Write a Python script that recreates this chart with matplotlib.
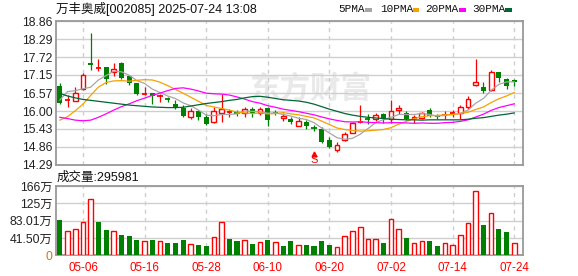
import matplotlib
matplotlib.use('Agg')
import matplotlib.pyplot as plt
from matplotlib.patches import Rectangle
import numpy as np

plt.rcParams['font.family'] = ['Liberation Sans', 'Noto Sans CJK SC', 'DejaVu Sans']

title = '万丰奥威[002085] 2025-07-24 13:08'

dates = ['04-28', '04-29', '04-30', '05-06', '05-07', '05-08', '05-09', '05-12', '05-13', '05-14',
         '05-15', '05-16', '05-19', '05-20', '05-21', '05-22', '05-23', '05-26', '05-27', '05-28',
         '05-29', '05-30', '06-03', '06-04', '06-05', '06-06', '06-09', '06-10', '06-11', '06-12',
         '06-13', '06-16', '06-17', '06-18', '06-19', '06-20', '06-23', '06-24', '06-25', '06-26',
         '06-27', '06-30', '07-01', '07-02', '07-03', '07-04', '07-07', '07-08', '07-09', '07-10',
         '07-11', '07-14', '07-15', '07-16', '07-17', '07-18', '07-21', '07-22', '07-23', '07-24']

opens = [16.80, 16.34, 16.33, 16.71, 17.52, 17.37, 17.39, 17.24, 17.54, 17.12,
         16.88, 16.54, 16.57, 16.46, 16.38, 16.22, 16.10, 15.82, 15.99, 15.81,
         15.65, 15.93, 15.94, 15.94, 15.93, 16.07, 15.93, 16.11, 15.96, 15.78,
         15.74, 15.52, 15.66, 15.47, 15.42, 15.09, 14.76, 15.08, 15.31, 15.65,
         15.75, 15.74, 15.90, 15.76, 16.03, 15.95, 15.78, 15.78, 16.03, 15.85,
         15.86, 15.91, 15.95, 16.12, 16.82, 16.76, 16.67, 17.24, 17.01, 16.99]
highs = [16.90, 16.50, 16.77, 17.22, 18.50, 17.65, 17.41, 17.52, 17.56, 17.14,
         16.90, 16.77, 16.58, 16.53, 16.46, 16.35, 16.19, 16.11, 16.03, 15.91,
         16.14, 16.54, 16.07, 16.03, 16.12, 16.12, 16.14, 16.12, 16.03, 15.95,
         15.82, 15.80, 15.70, 15.57, 15.48, 15.16, 15.01, 15.33, 15.65, 16.18,
         15.92, 15.93, 15.93, 16.35, 16.20, 15.99, 15.88, 15.97, 16.10, 15.91,
         16.01, 16.03, 16.20, 16.48, 17.67, 16.93, 17.31, 17.24, 17.05, 17.01]
lows = [16.22, 16.12, 16.31, 16.67, 17.32, 17.29, 16.86, 17.12, 17.01, 16.82,
        16.51, 16.50, 16.21, 16.28, 16.29, 16.07, 15.82, 15.74, 15.73, 15.57,
        15.63, 15.65, 15.80, 15.84, 15.80, 15.80, 15.88, 15.53, 15.88, 15.69,
        15.59, 15.51, 15.43, 15.35, 14.97, 14.82, 14.68, 15.04, 15.29, 15.61,
        15.59, 15.69, 15.63, 15.61, 15.90, 15.71, 15.61, 15.74, 15.82, 15.74,
        15.74, 15.80, 15.76, 16.05, 16.81, 16.57, 16.63, 16.93, 16.69, 16.80]
closes = [16.25, 16.36, 16.59, 17.15, 17.46, 17.40, 17.03, 17.33, 17.05, 16.90,
          16.54, 16.56, 16.47, 16.49, 16.36, 16.12, 15.85, 16.01, 15.80, 15.59,
          16.00, 16.07, 15.97, 15.92, 16.06, 15.91, 16.05, 15.73, 15.94, 15.83,
          15.66, 15.68, 15.52, 15.45, 15.01, 14.85, 14.91, 15.27, 15.61, 15.68,
          15.73, 15.86, 15.74, 16.01, 16.10, 15.76, 15.82, 15.93, 15.84, 15.83,
          15.89, 15.94, 16.12, 16.39, 16.93, 16.63, 17.24, 17.05, 16.80, 16.93]
close_before = 16.80

# volume in 万 (10k shares)
volumes = [84.5, 57.5, 62.3, 79.8, 134.1, 79.8, 60.6, 57.5, 48.6, 46.2,
           36.6, 33.5, 36.6, 33.5, 28.7, 28.7, 36.6, 26.3, 24.7, 22.3,
           43.1, 79.0, 39.0, 34.2, 36.6, 27.1, 31.1, 36.6, 31.1, 22.3,
           33.5, 24.0, 24.0, 22.3, 33.5, 24.0, 20.7, 47.0, 57.5, 67.1,
           38.3, 38.3, 28.7, 86.2, 62.3, 41.4, 28.7, 33.5, 33.5, 22.3,
           30.2, 24.0, 47.9, 76.6, 153.3, 71.9, 100.6, 63.0, 55.8, 29.6]

ma5 = [16.35, 16.62, 16.65, 16.71, 16.76, 16.99, 17.13, 17.27, 17.25, 17.14,
       16.97, 16.88, 16.70, 16.59, 16.48, 16.40, 16.26, 16.17, 16.03, 15.87,
       15.85, 15.89, 15.89, 15.91, 16.00, 15.99, 15.98, 15.93, 15.94, 15.89,
       15.84, 15.77, 15.73, 15.63, 15.46, 15.30, 15.15, 15.10, 15.13, 15.26,
       15.44, 15.63, 15.72, 15.80, 15.89, 15.89, 15.89, 15.92, 15.89, 15.84,
       15.86, 15.89, 15.92, 16.03, 16.25, 16.40, 16.66, 16.85, 16.93, 16.93]
ma10 = [15.71, 15.82, 16.01, 16.22, 16.50, 16.76, 16.91, 16.96, 16.97, 16.95,
        16.98, 17.00, 16.99, 16.92, 16.81, 16.69, 16.57, 16.44, 16.31, 16.18,
        16.13, 16.08, 16.03, 15.97, 15.94, 15.92, 15.94, 15.91, 15.92, 15.95,
        15.91, 15.88, 15.83, 15.78, 15.68, 15.57, 15.46, 15.41, 15.38, 15.36,
        15.37, 15.39, 15.41, 15.47, 15.58, 15.67, 15.76, 15.82, 15.85, 15.86,
        15.88, 15.89, 15.92, 15.96, 16.05, 16.13, 16.27, 16.39, 16.48, 16.59]
ma20 = [15.80, 15.76, 15.71, 15.69, 15.71, 15.80, 15.91, 16.03, 16.14, 16.23,
        16.33, 16.41, 16.50, 16.57, 16.65, 16.72, 16.74, 16.70, 16.64, 16.57,
        16.55, 16.54, 16.51, 16.45, 16.38, 16.30, 16.25, 16.17, 16.12, 16.06,
        16.02, 15.98, 15.93, 15.88, 15.81, 15.75, 15.70, 15.66, 15.65, 15.66,
        15.64, 15.63, 15.62, 15.63, 15.63, 15.62, 15.61, 15.62, 15.61, 15.61,
        15.63, 15.64, 15.67, 15.72, 15.81, 15.90, 16.02, 16.11, 16.17, 16.23]
ma30 = [16.56, 16.48, 16.42, 16.37, 16.34, 16.31, 16.28, 16.25, 16.22, 16.19,
        16.17, 16.15, 16.13, 16.12, 16.11, 16.11, 16.12, 16.16, 16.20, 16.24,
        16.27, 16.30, 16.34, 16.37, 16.42, 16.46, 16.47, 16.44, 16.40, 16.36,
        16.34, 16.32, 16.28, 16.22, 16.14, 16.06, 15.99, 15.92, 15.87, 15.83,
        15.80, 15.78, 15.76, 15.74, 15.73, 15.72, 15.72, 15.71, 15.72, 15.72,
        15.72, 15.72, 15.72, 15.74, 15.77, 15.79, 15.83, 15.87, 15.90, 15.94]

ma_names = ['5PMA', '10PMA', '20PMA', '30PMA']
ma_colors = ['#a6a6a6', '#f5a200', '#ff00ff', '#006633']

price_ticks = [14.29, 14.86, 15.43, 16.00, 16.57, 17.15, 17.72, 18.29, 18.86]
vol_ticks = [0, 41.50, 83.01, 124.51, 166.02]
vol_tick_labels = ['0', '41.50万', '83.01万', '125万', '166万']
date_ticks = ['05-06', '05-16', '05-28', '06-10', '06-20', '07-02', '07-14', '07-24']
volume_text = '成交量:295981'
split_day = '06-18'
watermark = '东方财富'

RED = '#ff0000'
GREEN = '#008000'
GRID = '#cfcfcf'
FRAME = '#999999'

W, H = 578, 276


def fx(px):
    return px / W


def fy(py):
    return 1 - py / H


def style_axes(ax):
    for s in ax.spines.values():
        s.set_color(FRAME)
        s.set_linewidth(1.3)
    ax.tick_params(length=0, colors='#222222', labelsize=8.8, pad=2.5)
    ax.set_xlim(-0.5, len(dates) + 0.1)
    for d in date_ticks:
        ax.axvline(dates.index(d), color=GRID, lw=1, ls=(0, (3, 3)), zorder=1)


fig = plt.figure(figsize=(W / 100, H / 100), dpi=100)
ax = fig.add_axes([fx(56), fy(164.7), fx(522.7 - 56), 143.4 / H])
vax = fig.add_axes([fx(56), fy(255.3), fx(522.7 - 56), 69.3 / H])

x = np.arange(len(dates))

# price panel
style_axes(ax)
ax.set_ylim(price_ticks[0], price_ticks[-1])
ax.set_yticks(price_ticks)
ax.set_yticklabels(['%.2f' % t for t in price_ticks])
ax.set_xticks([])
for t in price_ticks:
    ax.axhline(t, color=GRID, lw=1, zorder=1)

ax.text(0.544, 0.531, watermark, transform=ax.transAxes, ha='center', va='center',
        fontsize=22, color='#e9e9e9', fontweight='bold', family=['Noto Sans CJK SC'], zorder=0.5)

for i in range(len(x)):
    o, c = opens[i], closes[i]
    col = RED if c >= o else GREEN
    ax.vlines(x[i], lows[i], highs[i], color=col, lw=0.9, zorder=3)
    h = abs(c - o)
    if h < 0.035:
        ax.hlines((o + c) / 2, x[i] - 0.33, x[i] + 0.33, color=col, lw=1.3, zorder=4)
    elif col == RED:
        ax.bar(x[i], h, bottom=o, width=0.62, facecolor='white', edgecolor=RED, lw=1, zorder=4)
    else:
        ax.bar(x[i], h, bottom=c, width=0.66, color=GREEN, lw=0, zorder=4)

for vals, col in zip([ma5, ma10, ma20, ma30], ma_colors):
    ax.plot(x, vals, color=col, lw=0.9, zorder=5)

si = dates.index(split_day)
ax.plot([si], [0.072], marker='^', ms=3.5, color=RED, transform=ax.get_xaxis_transform(), zorder=6)
ax.text(si, 0.03, 'S', color=RED, fontsize=8, ha='center', va='center',
        transform=ax.get_xaxis_transform(), zorder=6)

# volume panel
style_axes(vax)
vax.set_ylim(0, vol_ticks[-1])
vax.set_yticks(vol_ticks)
vax.set_yticklabels(vol_tick_labels, family=['Liberation Sans', 'Noto Sans CJK SC'])
vax.get_yticklabels()[0].set_color('#cc7a00')
for t in vol_ticks:
    vax.axhline(t, color=GRID, lw=1, zorder=1)
prev = [close_before] + closes[:-1]
for i in range(len(x)):
    if closes[i] >= prev[i]:
        vax.bar(x[i], volumes[i], width=0.6, facecolor='white', edgecolor=RED, lw=1, zorder=3)
    else:
        vax.bar(x[i], volumes[i], width=0.66, color=GREEN, lw=0, zorder=3)
vax.set_xticks([dates.index(d) for d in date_ticks])
vax.set_xticklabels(date_ticks, color=RED, fontsize=8.4)
vax.tick_params(axis='x', pad=5)

# texts above panels
fig.text(fx(56), fy(9), title, fontsize=9, va='center', ha='left', color='#111111')
fig.text(fx(57), fy(177.5), volume_text, fontsize=9, va='center', ha='left', color='#111111')

legend_x = [338, 380, 425, 472]
dash_x = [365, 412.5, 459, 505]
for name, col, lx, dx in zip(ma_names, ma_colors, legend_x, dash_x):
    fig.text(fx(lx), fy(9.5), name, fontsize=8, va='center', ha='left', color='#111111',
             family=['Liberation Mono'])
    fig.add_artist(Rectangle((fx(dx), fy(11.5)), fx(6.5), 3 / H, transform=fig.transFigure,
                             color=col, lw=0))

fig.savefig('out.png', dpi=100)
